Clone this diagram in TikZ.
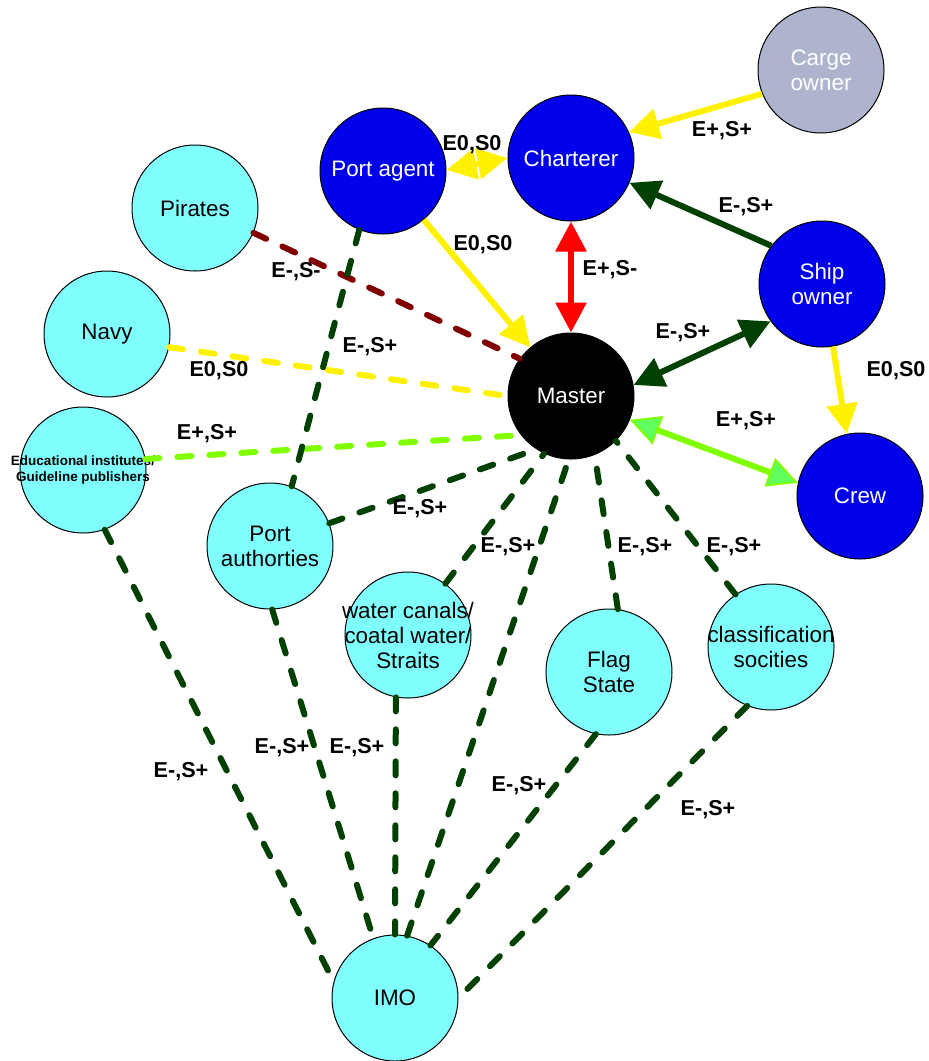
\documentclass[tikz,border=0pt]{standalone}
\usepackage{fontspec}
\setmainfont{Liberation Sans}
\usetikzlibrary{arrows.meta}

\definecolor{agentblue}{RGB}{0,0,235}
\definecolor{partycyan}{RGB}{128,255,255}
\definecolor{cargegray}{RGB}{174,180,206}
\definecolor{darkgreen}{RGB}{0,64,0}
\definecolor{darkred}{RGB}{128,0,0}
\definecolor{limeline}{RGB}{128,255,0}
\definecolor{crewhead}{RGB}{96,255,96}

\newcommand{\circtext}[1]{\makebox[0pt]{#1}}

\begin{document}
\begin{tikzpicture}[x=0.5pt,y=-0.5pt,
		>={Triangle[length=15pt,width=15pt]},
		party/.style={circle,draw=black,line width=0.5pt,minimum size=63pt,inner sep=0pt,align=center,font=\fontsize{11.2}{12.5}\selectfont},
		blueparty/.style={party,fill=agentblue,text=white},
		cyanparty/.style={party,fill=partycyan},
		lbl/.style={font=\fontsize{10.8}{13}\selectfont\bfseries},
		link/.style={line width=3pt},
		tie/.style={line width=3pt,line cap=round,dash pattern=on 7pt off 9pt}]
		\useasboundingbox (0,0) rectangle (929,1061);

		\node[party,fill=cargegray,text=white] (carge) at (821,70) {Carge\\owner};
		\node[blueparty] (charterer) at (571,158) {Charterer};
		\node[blueparty] (pagent) at (383,171) {Port agent};
		\node[blueparty] (shipowner) at (822,284) {Ship\\owner};
		\node[blueparty] (crew) at (860,496) {Crew};
		\node[party,fill=black,text=white] (master) at (571,396) {Master};

		\node[cyanparty] (pirates) at (195,208) {Pirates};
		\node[cyanparty] (navy) at (107,334) {Navy};
		\node[cyanparty,font=\fontsize{6.75}{8}\selectfont\bfseries] (edu) at (83,470) {\circtext{Educational institutes/}\\\circtext{Guideline publishers}};
		\node[cyanparty] (pauth) at (270,546) {Port\\authorties};
		\node[cyanparty] (canals) at (408,635) {\circtext{water canals/}\\\circtext{coatal water/}\\\circtext{Straits}};
		\node[cyanparty] (flag) at (609,672) {Flag\\State};
		\node[cyanparty] (class) at (771,647) {\circtext{classification}\\\circtext{socities}};
		\node[cyanparty] (imo) at (395,998) {IMO};

		\draw[link,yellow,->] (carge.202) -- (charterer.24);
		\draw[link,yellow,<->] (pagent.1) -- (charterer.180);
		\draw[link,yellow,->] (pagent) -- (master);
		\draw[link,red,<->] (charterer) -- (master);
		\draw[link,darkgreen,->] (shipowner.143) -- (charterer.337);
		\draw[link,darkgreen,<->] (shipowner.216) -- (master.10);
		\draw[link,yellow,->] (shipowner.280) -- (crew.102);
		\draw[link,limeline,{Triangle[length=15pt,width=15pt,line width=1pt,fill=crewhead]}-{Triangle[length=15pt,width=15pt,line width=1pt,fill=crewhead]}] (master.338) -- (crew.168);

		\draw[tie,darkred] (pirates.337) -- (master.144);
		\draw[tie,yellow] (navy.348) -- (master.180);
		\draw[tie,limeline] (edu.10) -- (master.218);
		\draw[tie,darkgreen] (pagent.248) -- (pauth.70);
		\draw[tie,darkgreen] (pauth.21) -- (master.237);
		\draw[tie,darkgreen] (canals.54) -- (master.245);
		\draw[tie,darkgreen] (imo.79) -- (master.268);
		\draw[tie,darkgreen] (flag.82) -- (master.292);
		\draw[tie,darkgreen] (class.124) -- (master.315);
		\draw[tie,darkgreen] (edu.290) -- (imo.165);
		\draw[tie,darkgreen] (pauth.272) -- (imo.110);
		\draw[tie,darkgreen] (canals.259) -- (imo.90);
		\draw[tie,darkgreen] (flag.258) -- (imo.56);
		\draw[tie,darkgreen] (class.248) -- (imo.0);

		\node[lbl] (lcarge) at (722,131) {E+,S+};
		\node[lbl] (lagent) at (472,145) {E0,S0};
		\node[lbl] (lagentmaster) at (483,245) {E0,S0};
		\node[lbl] (lcharterer) at (610,270) {E+,S-};
		\node[lbl] (lowner) at (746,207) {E-,S+};
		\node[lbl] (lownermaster) at (683,333) {E-,S+};
		\node[lbl] (lownercrew) at (896,371) {E0,S0};
		\node[lbl] (lcrew) at (746,421) {E+,S+};
		\node[lbl] (lpirates) at (296,272) {E-,S-};
		\node[lbl] (lnavy) at (219,371) {E0,S0};
		\node[lbl] (ledu) at (207,434) {E+,S+};
		\node[lbl] (lagentpauth) at (370,347) {E-,S+};
		\node[lbl] (lpauth) at (420,509) {E-,S+};
		\node[lbl] (lcanals) at (508,547) {E-,S+};
		\node[lbl] (lflag) at (645,547) {E-,S+};
		\node[lbl] (lclass) at (734,547) {E-,S+};
		\node[lbl] (leduimo) at (181,772) {E-,S+};
		\node[lbl] (lpauthimo) at (282,748) {E-,S+};
		\node[lbl] (lcanalsimo) at (357,748) {E-,S+};
		\node[lbl] (lflagimo) at (519,786) {E-,S+};
		\node[lbl] (lclassimo) at (708,810) {E-,S+};

	\end{tikzpicture}
\end{document}
